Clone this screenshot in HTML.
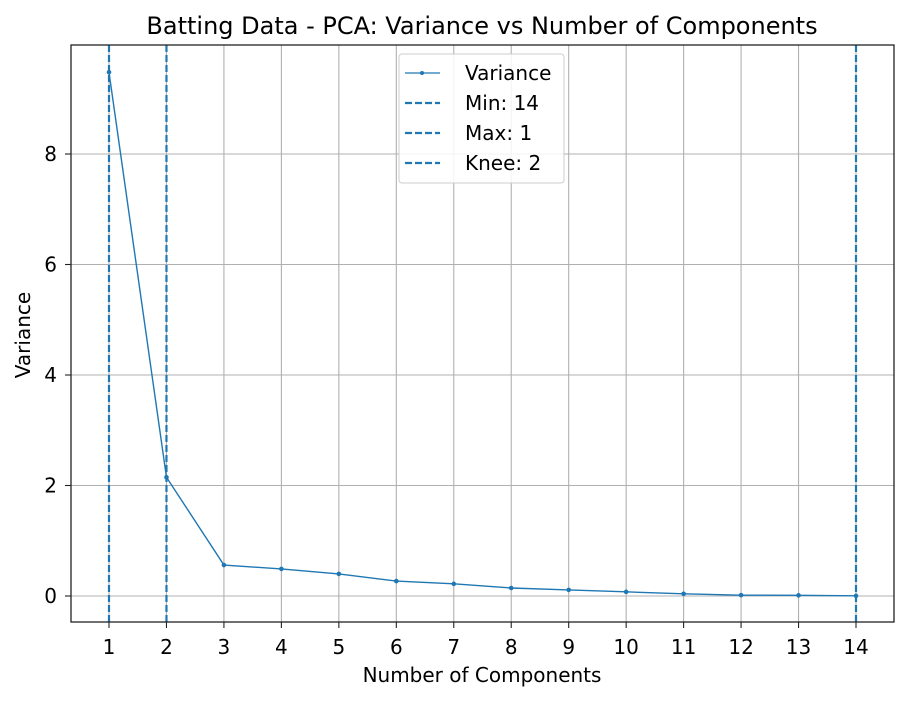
<!DOCTYPE html>
<html><head><meta charset="utf-8"><style>
body{margin:0;background:#fff;font-family:"DejaVu Sans","Liberation Sans",sans-serif;}
svg text{font-family:"DejaVu Sans","Liberation Sans",sans-serif;fill:#000;}
</style></head><body>
<svg id="chart" width="911" height="700" xmlns="http://www.w3.org/2000/svg">
<rect width="911" height="700" fill="#fff"/>
<g id="grid"></g>
<g id="vlines"></g>
<g id="series"></g>
<rect x="71" y="45" width="823" height="577" fill="none" stroke="#222" stroke-width="1.3"/>
<g id="xticks"></g>
<g id="yticks"></g>
<text x="482" y="34" font-size="24" text-anchor="middle">Batting Data - PCA: Variance vs Number of Components</text>
<text x="482" y="682" font-size="20" text-anchor="middle">Number of Components</text>
<text x="30" y="335" font-size="20" text-anchor="middle" transform="rotate(-90 30 335)">Variance</text>
<g id="legend">
<rect x="399" y="54" width="165" height="129" rx="3" fill="#fff" fill-opacity="0.85" stroke="#ccc"/>
<g><line x1="405" y1="73" x2="440" y2="73" stroke="#1f77b4" stroke-width="1.3"/><circle cx="422" cy="73" r="2" fill="#1f77b4"/><text x="465" y="80" font-size="20">Variance</text></g>
<g><line x1="405" y1="103" x2="440" y2="103" stroke="#1f77b4" stroke-width="2.2" stroke-dasharray="7,3"/><text x="465" y="110" font-size="20">Min: 14</text></g>
<g><line x1="405" y1="133" x2="440" y2="133" stroke="#1f77b4" stroke-width="2.2" stroke-dasharray="7,3"/><text x="465" y="140" font-size="20">Max: 1</text></g>
<g><line x1="405" y1="163" x2="440" y2="163" stroke="#1f77b4" stroke-width="2.2" stroke-dasharray="7,3"/><text x="465" y="170" font-size="20">Knee: 2</text></g>
</g>
</svg>
<script>
const components=[1,2,3,4,5,6,7,8,9,10,11,12,13,14];
const variance=[9.48,2.15,0.56,0.49,0.40,0.27,0.22,0.145,0.11,0.075,0.04,0.015,0.012,0.003];
const yTicks=[0,2,4,6,8];
const markers=[14,1,2];
const NS="http://www.w3.org/2000/svg";
const X=v=>109+(v-1)*(856-109)/13;
const Y=v=>596-v*(596-154)/8;
function mk(t,a,p){const e=document.createElementNS(NS,t);for(const k in a)e.setAttribute(k,a[k]);p.appendChild(e);return e;}
const grid=document.getElementById('grid'),xt=document.getElementById('xticks'),yt=document.getElementById('yticks');
components.forEach(c=>{
 const g=mk('line',{x1:X(c),x2:X(c),y1:45,y2:622,stroke:'#b0b0b0','stroke-width':1.1},grid);
 
 
 mk('line',{x1:X(c),x2:X(c),y1:622,y2:628,stroke:'#222','stroke-width':1.1},xt);
 const t=mk('text',{x:X(c),y:654,'font-size':20,'text-anchor':'middle'},xt);t.textContent=c;
 
 
});
yTicks.forEach(v=>{
 const g=mk('line',{x1:71,x2:894,y1:Y(v),y2:Y(v),stroke:'#b0b0b0','stroke-width':1.1},grid);
 
 
 mk('line',{x1:65,x2:71,y1:Y(v),y2:Y(v),stroke:'#222','stroke-width':1.1},yt);
 const t=mk('text',{x:57,y:Y(v)+7,'font-size':20,'text-anchor':'end'},yt);t.textContent=v;
 
 
});
const vl=document.getElementById('vlines');
markers.forEach(m=>{
 const l=mk('line',{x1:X(m),x2:X(m),y1:45,y2:622,stroke:'#1f77b4','stroke-width':2.2,'stroke-dasharray':'7,3'},vl);
 
 
});
const s=document.getElementById('series');
const pl=mk('polyline',{points:components.map((c,i)=>X(c)+','+Y(variance[i])).join(' '),fill:'none',stroke:'#1f77b4','stroke-width':1.4},s);


components.forEach((c,i)=>{
 const p=mk('circle',{cx:X(c),cy:Y(variance[i]),r:2.3,fill:'#1f77b4'},s);
 
 
});
</script>
</body></html>
